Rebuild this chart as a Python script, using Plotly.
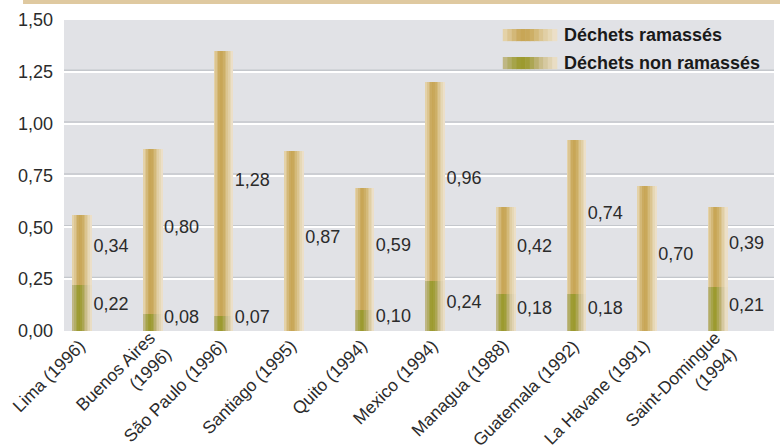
import plotly.graph_objects as go

cities = ["Lima (1996)", "Buenos Aires<br>(1996)", "São Paulo (1996)", "Santiago (1995)",
          "Quito (1994)", "Mexico (1994)", "Managua (1988)", "Guatemala (1992)",
          "La Havane (1991)", "Saint-Domingue<br>(1994)"]
non_ramasses = [0.22, 0.08, 0.07, 0.0, 0.10, 0.24, 0.18, 0.18, 0.0, 0.21]
ramasses = [0.34, 0.80, 1.28, 0.87, 0.59, 0.96, 0.42, 0.74, 0.70, 0.39]
y_ticks = [0, 0.25, 0.5, 0.75, 1.0, 1.25, 1.5]

tan_grad = ["#e4d2a8", "#dcc591", "#d3b878", "#cbab60", "#c8a656", "#c9a85a",
            "#cdaf66", "#d4ba7a", "#dbc591", "#e1cfa5", "#e6d8b6", "#ecdfc8"]
green_grad = ["#bfb784", "#b2ad66", "#a6a44a", "#9e9c34", "#9c9a2f", "#a19e3a",
              "#aca653", "#bbb070", "#cabd8a", "#d6c9a0", "#e0d3b2", "#e9ddc4"]

FONT = "Liberation Sans"
x = list(range(len(cities)))
bar_w = 0.27
n = len(tan_grad)
sw = bar_w / n

fig = go.Figure()
for k in range(n):
    xs = [i - bar_w / 2 + sw * (k + 0.5) for i in x]
    fig.add_trace(go.Bar(x=xs, y=non_ramasses, base=[0] * len(x), width=sw * 1.05,
                         marker=dict(color=green_grad[k], line=dict(width=0)),
                         showlegend=False, hoverinfo="skip"))
    fig.add_trace(go.Bar(x=xs, y=ramasses, base=non_ramasses, width=sw * 1.05,
                         marker=dict(color=tan_grad[k], line=dict(width=0)),
                         showlegend=False, hoverinfo="skip"))

# value labels
lab_x, lab_y, lab_t = [], [], []
for i, (b, t) in enumerate(zip(non_ramasses, ramasses)):
    lab_x.append(i + bar_w / 2 + 0.02)
    lab_y.append(b + t / 2 + 0.013)
    lab_t.append(f"{t:.2f}".replace(".", ","))
    if b > 0:
        lab_x.append(i + bar_w / 2 + 0.02)
        lab_y.append(max(b / 2, 0.045) + 0.013)
        lab_t.append(f"{b:.2f}".replace(".", ","))
fig.add_trace(go.Scatter(x=lab_x, y=lab_y, text=lab_t, mode="text",
                         textposition="middle right",
                         textfont=dict(family=FONT, size=18, color="#2b2b2b"),
                         showlegend=False, hoverinfo="skip"))

shapes = []
# gridline shadows
for v in y_ticks[1:-1]:
    shapes.append(dict(type="line", xref="paper", yref="y", x0=0, x1=1, y0=v + 0.0075, y1=v + 0.0075,
                       line=dict(color="#c4c7cc", width=1.5), layer="between"))
# top band
shapes.append(dict(type="rect", xref="paper", yref="paper", x0=-0.0577, x1=1.01, y0=1.0514, y1=1.07,
                   fillcolor="#dfc9a0", line=dict(width=0)))
# manual legend swatches
lx0, lx1 = 0.618, 0.694
lw = (lx1 - lx0) / n
for grad, (y0, y1) in ((tan_grad, (0.932, 0.971)), (green_grad, (0.842, 0.881))):
    for k in range(n):
        shapes.append(dict(type="rect", xref="paper", yref="paper",
                           x0=lx0 + lw * k, x1=lx0 + lw * (k + 1) + 0.0008, y0=y0, y1=y1,
                           fillcolor=grad[k], line=dict(width=0), layer="above"))

annotations = [
    dict(text="Déchets ramassés", x=0.702, y=0.9515, xref="paper", yref="paper",
         xanchor="left", yanchor="middle", showarrow=False,
         font=dict(family=FONT, size=18, color="#1a1a1a", weight="bold")),
    dict(text="Déchets non ramassés", x=0.702, y=0.8615, xref="paper", yref="paper",
         xanchor="left", yanchor="middle", showarrow=False,
         font=dict(family=FONT, size=18, color="#1a1a1a", weight="bold")),
]
# category labels (rotated)
for i, name in enumerate(cities):
    two = "<br>" in name
    annotations.append(dict(text=name, x=i, y=0, xref="x", yref="y",
                            xanchor="right", yanchor="top", showarrow=False,
                            textangle=-45, align="right",
                            xshift=25 if two else 9, yshift=6 if two else -2,
                            font=dict(family=FONT, size=17.5, color="#2b2b2b")))

fig.update_layout(
    width=780, height=446,
    margin=dict(l=64, r=6, t=20, b=115, autoexpand=False),
    paper_bgcolor="white", plot_bgcolor="#e1e2e6",
    barmode="overlay", bargap=0,
    separators=", ",
    shapes=shapes, annotations=annotations,
    font=dict(family=FONT, size=18, color="#2b2b2b"),
    xaxis=dict(range=[-0.262, 9.794], showticklabels=False,
               showgrid=False, zeroline=False, showline=False, ticks="", automargin=False),
    yaxis=dict(range=[0, 1.5], tickvals=y_ticks, tickformat=".2f",
               showgrid=True, gridcolor="#ffffff", gridwidth=1.6,
               zeroline=False, showline=False, ticks="", ticklabelstandoff=10, automargin=False,
               tickfont=dict(family=FONT, size=18, color="#2b2b2b")),
)

fig.write_html("out.html", config={"displayModeBar": False},
               post_script="document.body.style.margin='0';document.body.style.overflow='hidden';")
